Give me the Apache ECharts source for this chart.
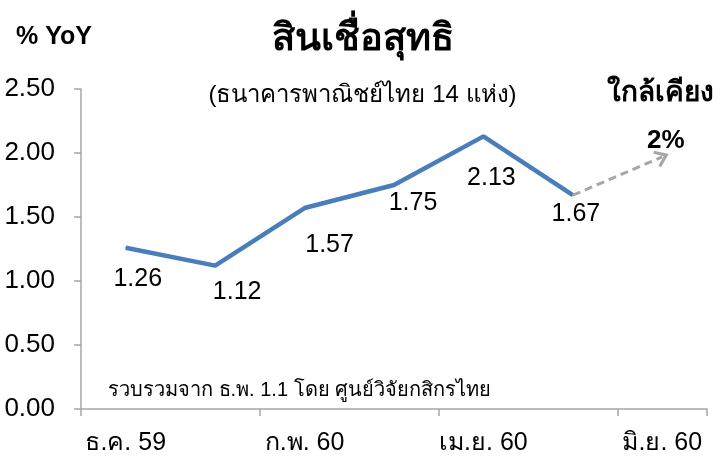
<!DOCTYPE html>
<html>
<head>
<meta charset="utf-8">
<script src="https://cdn.jsdelivr.net/npm/echarts@6/dist/echarts.min.js"></script>
<style>
  html, body { margin: 0; padding: 0; background: #fff; }
  #loan-chart { width: 725px; height: 461px; }
</style>
</head>
<body>
<div id="loan-chart"></div>
<script>
// เดือน (แกน x)
var categories = ['ธ.ค. 59', 'ม.ค. 60', 'ก.พ. 60', 'มี.ค. 60', 'เม.ย. 60', 'พ.ค. 60', 'มิ.ย. 60'];
// สินเชื่อสุทธิ %YoY
var loanGrowth = [1.26, 1.12, 1.57, 1.75, 2.13, 1.67];
// คาดการณ์ ~2%
var forecastFrom = ['พ.ค. 60', 1.67];
var forecastTo = ['มิ.ย. 60', 1.97];
var yTicks = [0, 0.5, 1, 1.5, 2, 2.5];

// label offset from the point (px)
var labelOffsets = [[12, 31], [22, 26], [25, 37], [19, 18], [8, 42], [3, 19]];

var FONT = 'Liberation Sans, Arial, sans-serif';
var axisColor = '#a6a6a6';

var chart = echarts.init(document.getElementById('loan-chart'));
chart.setOption({
  animation: false,
  grid: { left: 81, right: 18, top: 89, bottom: 52 },
  title: [
    {
      text: 'สินเชื่อสุทธิ',
      left: 'center',
      top: 16,
      textStyle: { fontFamily: FONT, fontSize: 38, fontWeight: 'bold', color: '#000' }
    },
    {
      text: '(ธนาคารพาณิชย์ไทย 14 แห่ง)',
      left: 'center',
      top: 78,
      textStyle: { fontFamily: FONT, fontSize: 24, fontWeight: 'normal', color: '#000' }
    },
    {
      text: '% YoY',
      left: 11,
      top: 20,
      textStyle: { fontFamily: FONT, fontSize: 25, fontWeight: 'bold', color: '#000' }
    },
    {
      text: 'ใกล้เคียง',
      left: 602,
      top: 74,
      textStyle: { fontFamily: FONT, fontSize: 28, fontWeight: 'bold', color: '#000' }
    },
    {
      text: '2%',
      left: 642,
      top: 123,
      textStyle: { fontFamily: FONT, fontSize: 26, fontWeight: 'bold', color: '#000' }
    },
    {
      text: 'รวบรวมจาก ธ.พ. 1.1 โดย ศูนย์วิจัยกสิกรไทย',
      left: 103,
      top: 375,
      textStyle: { fontFamily: FONT, fontSize: 20, fontWeight: 'normal', color: '#000' }
    }
  ],
  xAxis: {
    type: 'category',
    data: categories,
    boundaryGap: true,
    axisLine: { lineStyle: { color: axisColor, width: 1.5 } },
    axisTick: { show: true, interval: 1, length: 7, lineStyle: { color: axisColor, width: 1.5 } },
    axisLabel: {
      interval: 1,
      margin: 22,
      fontFamily: FONT,
      fontSize: 25,
      color: '#000'
    },
    splitLine: { show: false }
  },
  yAxis: {
    type: 'value',
    min: yTicks[0],
    max: yTicks[yTicks.length - 1],
    interval: 0.5,
    axisLine: { show: true, lineStyle: { color: axisColor, width: 1.5 } },
    axisTick: { show: true, length: 7, lineStyle: { color: axisColor, width: 1.5 } },
    axisLabel: {
      margin: 26,
      fontFamily: FONT,
      fontSize: 26,
      color: '#000',
      formatter: function (v) { return v.toFixed(2); }
    },
    splitLine: { show: false }
  },
  series: [
    {
      name: 'สินเชื่อสุทธิ',
      type: 'line',
      data: loanGrowth.map(function (v, i) {
        return {
          value: v,
          label: { offset: labelOffsets[i] }
        };
      }),
      symbol: 'circle',
      symbolSize: 1,
      itemStyle: { color: '#4a7ebb' },
      lineStyle: { color: '#4a7ebb', width: 4.5 },
      label: {
        show: true,
        position: 'inside',
        fontFamily: FONT,
        fontSize: 25,
        color: '#000',
        formatter: function (p) { return p.value.toFixed(2); }
      },
      markLine: {
        silent: true,
        symbol: ['none', 'path://M0,14 L10,0 L20,14 L17,16 L10,6 L3,16 Z'],
        symbolSize: [18, 14],
        label: { show: false },
        lineStyle: { color: '#a6a6a6', width: 3, type: [8, 5] },
        data: [[
          { coord: forecastFrom },
          { coord: forecastTo }
        ]]
      }
    }
  ]
});
</script>
</body>
</html>
